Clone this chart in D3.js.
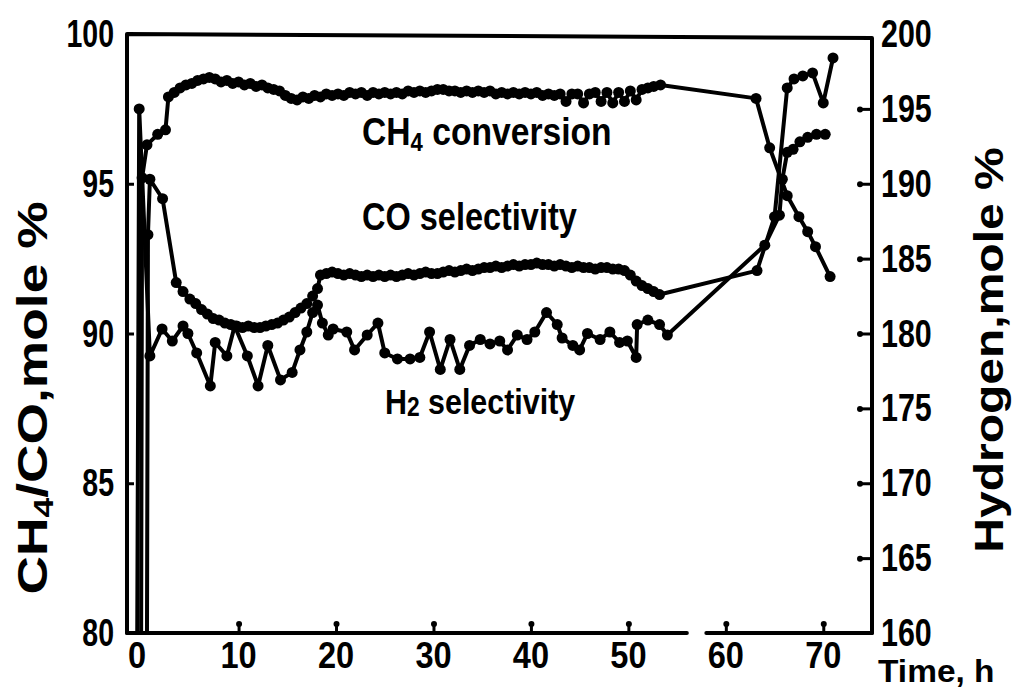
<!DOCTYPE html>
<html><head><meta charset="utf-8">
<script src="https://cdn.jsdelivr.net/npm/d3@7"></script>
<style>html,body{margin:0;padding:0;background:#fff;} svg{display:block;}</style>
</head><body><svg id="c" width="1012" height="689"></svg>
<script>
// ---- data ----
const xTicks = [0, 10, 20, 30, 40, 50, 60, 70];
const leftTicks = [80, 85, 90, 95, 100];
const rightTicks = [160, 165, 170, 175, 180, 185, 190, 195, 200];
const axisBreak = [56.0, 58.0];

const ch4Time = [0,0.1,0.6,1.7,2.5,2.8,3.4,4.0,4.6,5.2,5.8,6.4,7.0,7.6,8.2,8.8,9.4,10.0,10.6,11.2,11.8,12.4,13.0,13.6,14.2,14.8,15.4,16.0,16.6,17.2,17.8,18.4,19.0,19.6,20.2,20.8,21.4,22.0,22.6,23.2,23.8,24.4,25.0,25.6,26.2,26.8,27.4,28.0,28.6,29.2,29.8,30.4,31.0,31.6,32.2,32.8,33.4,34.0,34.6,35.2,35.8,36.4,37.0,37.6,38.2,38.8,39.4,40.0,40.6,41.2,41.8,42.4,43.0,43.6,44.2,44.8,45.4,46.0,46.6,47.2,47.8,48.4,49.0,49.6,50.2,50.8,51.4,52.0,52.6,53.3,63.1,64.5,66.3,67.5,68.4,69.2,70.7];
const ch4Conv = [80,95.2,96.3,96.65,96.8,97.9,98.05,98.2,98.3,98.35,98.45,98.5,98.55,98.5,98.4,98.45,98.35,98.4,98.3,98.35,98.25,98.3,98.2,98.15,98.1,97.95,97.85,97.8,97.9,97.85,97.95,97.9,98.0,97.95,98.0,97.95,98.05,98.0,98.05,97.95,98.05,98.0,98.05,98.0,98.05,98.0,98.1,98.05,98.1,98.05,98.1,98.15,98.15,98.1,98.1,98.05,98.1,98.05,98.1,98.05,98.1,98.0,98.05,98.0,98.05,98.0,98.05,98.0,98.05,97.95,98.0,97.95,98.0,97.75,98.0,98.0,97.7,98.0,98.05,97.75,98.05,97.7,98.05,97.75,98.1,97.8,98.15,98.2,98.25,98.3,97.85,96.2,94.6,93.9,93.4,92.9,91.9];

const coTime = [0.6,0.7,0.9,2.2,3.6,4.3,5.0,5.6,6.2,6.8,7.4,8.0,8.6,9.2,9.8,10.4,11.0,11.6,12.2,12.8,13.4,14.0,14.6,15.2,15.8,16.4,17.0,17.6,18.1,18.4,19.0,19.6,20.2,20.8,21.4,22.0,22.6,23.2,23.8,24.4,25.0,25.6,26.2,26.8,27.4,28.0,28.6,29.2,29.8,30.4,31.0,31.6,32.2,32.8,33.4,34.0,34.6,35.2,35.8,36.4,37.0,37.6,38.2,38.8,39.4,40.0,40.6,41.2,41.8,42.4,43.0,43.6,44.2,44.8,45.4,46.0,46.6,47.2,47.8,48.4,49.0,49.6,50.2,50.8,51.4,52.0,52.6,53.2,63.2,65.0,66.3,67.0,67.9,68.9,70.0,71.0];
const coSel = [80,93.3,95.15,94.5,91.7,91.4,91.15,91.0,90.8,90.65,90.5,90.45,90.35,90.3,90.25,90.2,90.25,90.2,90.2,90.25,90.3,90.35,90.45,90.55,90.7,90.85,91.0,91.25,91.5,91.95,92.0,92.05,92.0,91.95,92.0,91.95,91.9,91.95,91.9,91.95,91.9,91.95,91.9,91.95,92.0,91.95,92.0,92.05,92.0,92.0,92.05,92.1,92.05,92.1,92.15,92.1,92.15,92.2,92.2,92.25,92.2,92.25,92.3,92.25,92.3,92.3,92.35,92.3,92.3,92.25,92.3,92.25,92.2,92.25,92.2,92.2,92.15,92.2,92.2,92.15,92.15,92.1,91.95,91.75,91.6,91.5,91.4,91.3,92.1,93.9,98.2,98.5,98.6,98.7,97.7,99.2];

const h2Time = [-0.4,-0.2,0.9,2.15,3.2,4.3,4.8,5.7,7.1,7.6,8.8,9.6,10.9,12.0,13.0,14.3,15.5,16.3,17.0,17.6,18.1,18.6,19.2,19.7,21.1,21.9,23.2,24.3,25.0,26.3,27.6,28.6,29.6,30.7,31.7,32.7,33.7,34.8,35.8,36.8,37.6,38.6,39.6,40.4,41.6,42.7,43.2,44.3,45.0,45.8,47.1,48.1,49.1,49.9,50.8,50.9,52.0,53.2,54.0,64.0,65.5,65.8,66.3,66.9,67.6,68.4,69.3,70.2];
const h2Sel = [160,195,178.5,180.3,179.5,180.5,180.0,178.7,176.5,179.4,178.5,180.5,178.5,176.5,179.2,176.9,177.4,178.9,180.1,181.4,181.9,180.7,179.9,180.3,180.1,178.9,179.9,180.7,178.7,178.3,178.3,178.4,180.1,177.6,179.6,177.6,179.2,179.6,179.3,179.5,178.9,179.9,179.6,180.1,181.4,180.6,179.7,179.2,178.9,180.0,179.6,180.1,179.4,179.5,178.4,180.6,180.9,180.6,179.9,185.9,187.9,190.3,192.1,192.3,192.8,193.1,193.3,193.3];

// ---- drawing ----
const svg = d3.select('#c');
const FONT = '"Liberation Sans", Arial, Helvetica, sans-serif';
const X0 = 127, X1 = 872, YT = 34, YB = 633;
const x = d3.scaleLinear().domain([-1.45, 75.0]).range([X0, X1]);
const yL = d3.scaleLinear().domain([80, 100]).range([YB, YT]);
const yR = d3.scaleLinear().domain([160, 200]).range([YB, YT]);

function txt(str, tx, ty, size, sx, anchor, rot) {
  const t = svg.append('text')
    .attr('transform', `translate(${tx},${ty})` + (rot ? ` rotate(${rot})` : '') + ` scale(${sx},1)`)
    .attr('font-family', FONT).attr('font-weight', 'bold')
    .attr('font-size', size).attr('text-anchor', anchor || 'start').attr('fill', '#000');
  if (str !== null) t.text(str);
  return t;
}

// frame
const frame = svg.append('g').attr('fill', 'none').attr('stroke', '#000').attr('stroke-width', 4).attr('stroke-linecap', 'round').attr('stroke-linejoin', 'round');
frame.append('path').attr('d', `M${X0},${YB} L${X0},${YT} L${X1},${YT + 4} L${X1},${YB}`);
frame.append('line').attr('x1', X0).attr('y1', YB).attr('x2', x(axisBreak[0])).attr('y2', YB);
frame.append('line').attr('x1', x(axisBreak[1])).attr('y1', YB).attr('x2', X1).attr('y2', YB);

// bottom ticks (inward)
const gx = svg.append('g').attr('transform', `translate(0,${YB})`)
  .call(d3.axisBottom(x).tickValues(xTicks.slice(1)).tickSize(-9).tickFormat(''));
gx.select('.domain').remove();
gx.selectAll('.tick line').attr('stroke', '#000').attr('stroke-width', 3);
gx.selectAll('.tick').append('circle').attr('cx', 0).attr('cy', -9).attr('r', 3).attr('fill', '#000');

// right ticks (inward)
const gr = svg.append('g').attr('transform', `translate(${X1},0)`)
  .call(d3.axisRight(yR).tickValues(rightTicks.slice(1, -1)).tickSize(-12).tickFormat(''));
gr.select('.domain').remove();
gr.selectAll('.tick line').attr('stroke', '#000').attr('stroke-width', 3);
gr.selectAll('.tick').append('circle').attr('cx', -12).attr('cy', 0).attr('r', 3).attr('fill', '#000');

// left ticks (inward, small)
const gl = svg.append('g').attr('transform', `translate(${X0},0)`)
  .call(d3.axisLeft(yL).tickValues(leftTicks.slice(1, -1)).tickSize(-7).tickFormat(''));
gl.select('.domain').remove();
gl.selectAll('.tick line').attr('stroke', '#000').attr('stroke-width', 3);

// tick labels
leftTicks.forEach(v => txt(String(v), 114, yL(v) + 13, 38, 0.75, 'end'));
rightTicks.forEach(v => txt(String(v), 881, yR(v) + 13, 39, 0.78, 'start'));
xTicks.forEach(v => txt(String(v), x(v) - (v === 0 ? 4 : 0), 668, 37, 0.88, 'middle'));
txt('Time, h', 878, 682, 31, 1.08, 'start');

// axis titles
const lt = txt(null, 47, 398, 42, 1.27, 'middle', -90);
lt.append('tspan').text('CH');
lt.append('tspan').attr('font-size', 28).attr('dy', 6).text('4');
lt.append('tspan').attr('dy', -6).text('/CO,mole %');
txt('Hydrogen,mole %', 1003, 350, 40, 1.2, 'middle', -90);

// series
const line = (ys) => d3.line().x(d => x(d[0])).y(d => ys(d[1]));
function series(times, vals, ys) {
  const pts = times.map((t, i) => [t, vals[i]]);
  svg.append('path').datum(pts).attr('d', line(ys)).attr('fill', 'none')
    .attr('stroke', '#000').attr('stroke-width', 4).attr('stroke-linejoin', 'round');
  svg.append('g').selectAll('circle').data(pts.filter(p => p[1] > (ys === yL ? 80 : 160)))
    .join('circle').attr('cx', d => x(d[0])).attr('cy', d => ys(d[1])).attr('r', 5.5).attr('fill', '#000');
}
series(ch4Time, ch4Conv, yL);
series(coTime, coSel, yL);
series(h2Time, h2Sel, yR);

// annotations
const a1 = txt(null, 362, 145, 38, 0.885, 'start');
a1.append('tspan').text('CH');
a1.append('tspan').attr('font-size', 25).attr('dy', 6).text('4');
a1.append('tspan').attr('dy', -6).text(' conversion');
txt('CO selectivity', 362, 230, 38, 0.855, 'start');
const a3 = txt(null, 385, 414, 36, 0.845, 'start');
a3.append('tspan').text('H');
a3.append('tspan').attr('font-size', 27).attr('dy', 2).text('2');
a3.append('tspan').attr('dy', -2).text(' selectivity');
</script></body></html>
